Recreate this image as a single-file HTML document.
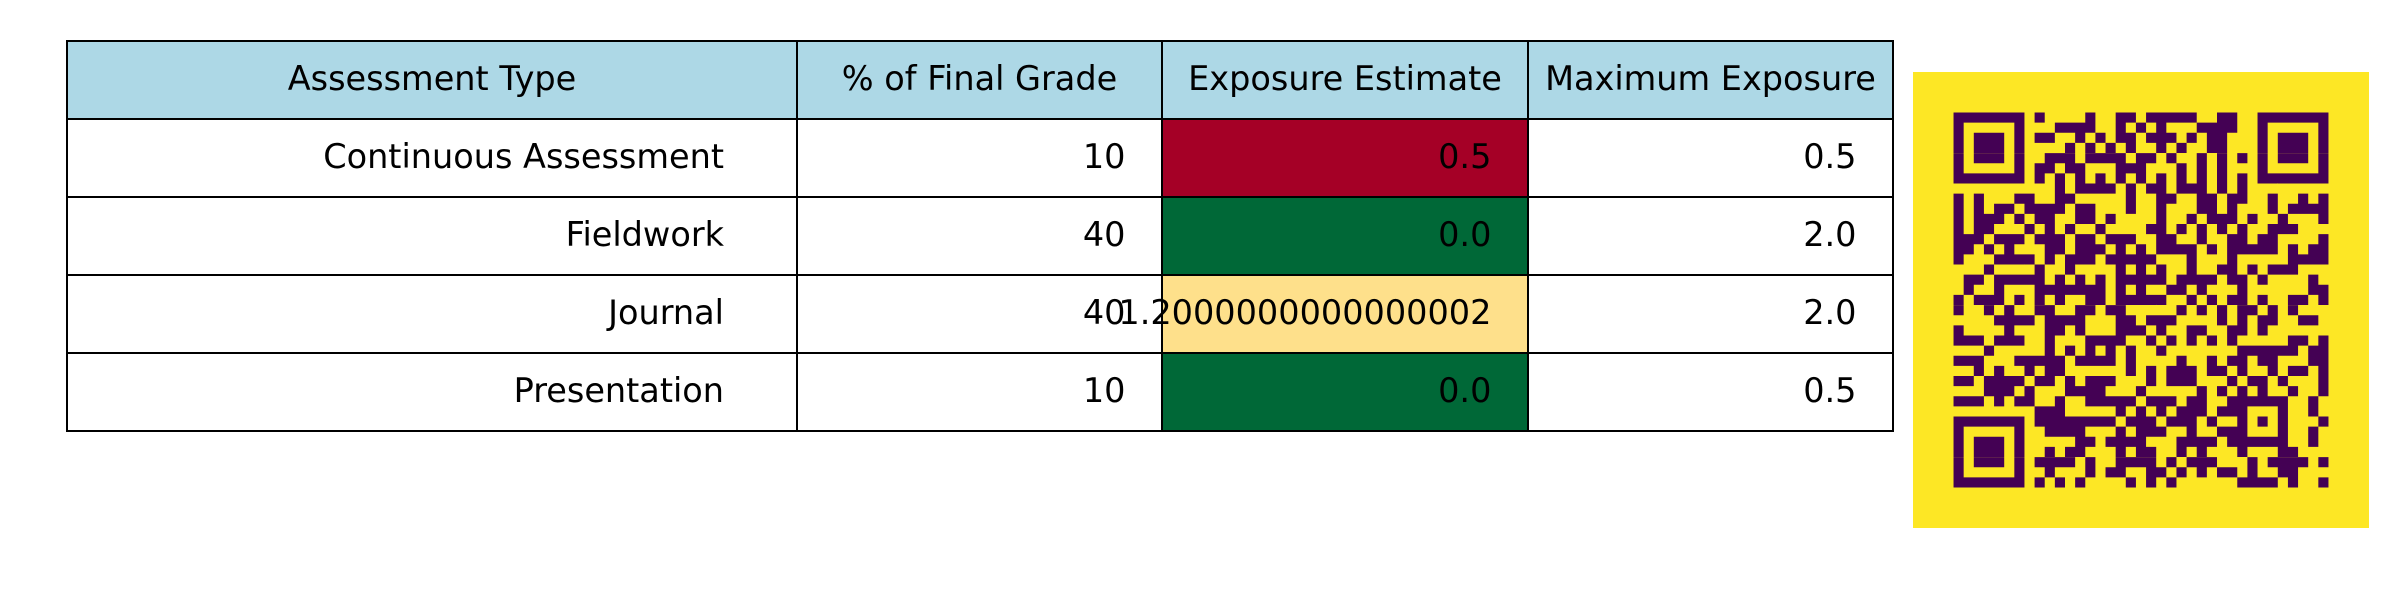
<!DOCTYPE html>
<html><head><meta charset="utf-8">
<style>
html,body{margin:0;padding:0;background:#fff;width:2400px;height:600px;overflow:hidden}
svg text{font-family:"DejaVu Sans","Liberation Sans",sans-serif;font-size:33.5px;fill:#000}
</style></head>
<body>
<svg id="chart" width="2400" height="600" xmlns="http://www.w3.org/2000/svg">
<g id="table"></g>
<g id="qr"></g>
</svg>
<script>
const headers = ["Assessment Type", "% of Final Grade", "Exposure Estimate", "Maximum Exposure"];
const assessmentTypes = ["Continuous Assessment", "Fieldwork", "Journal", "Presentation"];
const finalGrade = ["10", "40", "40", "10"];
const exposureEstimate = ["0.5", "0.0", "1.2000000000000002", "0.0"];
const maximumExposure = ["0.5", "2.0", "2.0", "0.5"];
const exposureColors = ["#a50026", "#006837", "#fee08b", "#006837"];

const NS = "http://www.w3.org/2000/svg";
const colX = [67, 797, 1162, 1528, 1893];
const top0 = 41, rowH = 78;
const tbl = document.getElementById('table');
function mk(tag, attrs){const e=document.createElementNS(NS,tag);for(const k in attrs)e.setAttribute(k,attrs[k]);return e;}

headers.forEach((h,i)=>{
  const r = mk('rect',{x:colX[i],y:top0,width:colX[i+1]-colX[i],height:rowH,fill:'#add8e6',stroke:'#000','stroke-width':2});
  
  
  tbl.appendChild(r);
});
assessmentTypes.forEach((a,ri)=>{
  const y = top0 + rowH*(ri+1);
  for(let ci=0;ci<4;ci++){
    const w = colX[ci+1]-colX[ci];
    const r = mk('rect',{x:colX[ci],y:y,width:w,height:rowH,fill:ci===2?exposureColors[ri]:'#fff',stroke:'#000','stroke-width':2});
    
    
    tbl.appendChild(r);
  }
});
headers.forEach((h,i)=>{
  const t = mk('text',{x:(colX[i]+colX[i+1])/2,y:top0+rowH/2+10,'text-anchor':'middle'});
  t.textContent = h;
  
  
  tbl.appendChild(t);
});
assessmentTypes.forEach((a,ri)=>{
  const vals = [a, finalGrade[ri], exposureEstimate[ri], maximumExposure[ri]];
  const y = top0 + rowH*(ri+1);
  vals.forEach((v,ci)=>{
    const w = colX[ci+1]-colX[ci];
    const t = mk('text',{x:colX[ci+1]-w*0.1,y:y+rowH/2+10,'text-anchor':'end'});
    t.textContent = v;
    
    
    tbl.appendChild(t);
  });
});

const qrRows = [
"1111111"+"0100001"+"0011011"+"1110011"+"0011111"+"11",
"1000001"+"0001111"+"0010101"+"0001111"+"0010000"+"01",
"1011101"+"0110010"+"1011011"+"1010110"+"0010111"+"01",
"1011101"+"0000101"+"0101001"+"0100110"+"0010111"+"01",
"1011101"+"0011101"+"1110110"+"1001010"+"1010111"+"01",
"1000001"+"0110110"+"0011100"+"0101010"+"0010000"+"01",
"1111111"+"0101010"+"1010101"+"0101010"+"1011111"+"11",
"0000000"+"0001011"+"1101011"+"0111010"+"1000000"+"00",
"1010001"+"1001100"+"0001001"+"1001101"+"1001001"+"01",
"1010110"+"1111011"+"0001001"+"0001101"+"0001011"+"11",
"1011101"+"0110011"+"0100001"+"0010111"+"0100100"+"01",
"1011000"+"1010100"+"1000011"+"0101010"+"1001110"+"00",
"1110111"+"0111011"+"0111001"+"1001001"+"1011000"+"01",
"1101010"+"0011011"+"1010101"+"1110101"+"1111010"+"11",
"1000111"+"1010111"+"0111110"+"0010001"+"0000011"+"11",
"0001000"+"0100100"+"0010101"+"0010011"+"0101110"+"00",
"0110111"+"1101010"+"1011111"+"0111101"+"1010000"+"10",
"0100100"+"0111111"+"1010100"+"1101000"+"1000000"+"11",
"1011101"+"0101001"+"1011111"+"0010101"+"1010011"+"01",
"1001010"+"0110011"+"0110000"+"0101010"+"1101010"+"00",
"0000111"+"1011110"+"0011011"+"1000010"+"1011001"+"10",
"1000010"+"0011010"+"0011101"+"0011001"+"1010000"+"00",
"1110111"+"0010001"+"1110010"+"1010101"+"0000011"+"01",
"0001000"+"0010101"+"0101001"+"0000000"+"1111110"+"11",
"1110001"+"1111011"+"1101000"+"0100101"+"1011000"+"11",
"0010100"+"1011000"+"0001010"+"1110110"+"1001011"+"01",
"1101111"+"0110101"+"1100010"+"1110001"+"0110100"+"01",
"0001110"+"1000111"+"1000100"+"0001010"+"1010010"+"01",
"1110101"+"1001001"+"1111011"+"1011001"+"1111100"+"10",
"0000000"+"0111000"+"0010101"+"0111011"+"1000100"+"10",
"1111111"+"0111111"+"1101110"+"1110100"+"1010100"+"01",
"1000001"+"0011110"+"0010111"+"0010011"+"1000100"+"10",
"1011101"+"0000011"+"0111100"+"0111101"+"1111100"+"10",
"1011101"+"0010110"+"0010110"+"0101000"+"1000110"+"00",
"1011101"+"0111101"+"0011110"+"1011100"+"0101111"+"01",
"1000001"+"0010001"+"0110011"+"0101011"+"0100110"+"00",
"1111111"+"0101010"+"0001010"+"1000000"+"1111010"+"01"
];
const qr = document.getElementById('qr');
const qx0 = 1913, qy0 = 72, qsize = 456, mod = qsize/45;
const bg = mk('rect',{x:qx0,y:qy0,width:qsize,height:qsize,fill:'#fde725'});


qr.appendChild(bg);
let d = '';
qrRows.forEach((row,r)=>{
  for(let c=0;c<row.length;c++){
    if(row[c]==='1'){
      const x=qx0+mod*(4+c), y=qy0+mod*(4+r);
      d += `M${x.toFixed(2)} ${y.toFixed(2)}h${mod.toFixed(2)}v${mod.toFixed(2)}h${(-mod).toFixed(2)}z`;
    }
  }
});
const p = mk('path',{d:d,fill:'#440154'});


qr.appendChild(p);
</script>
</body></html>
